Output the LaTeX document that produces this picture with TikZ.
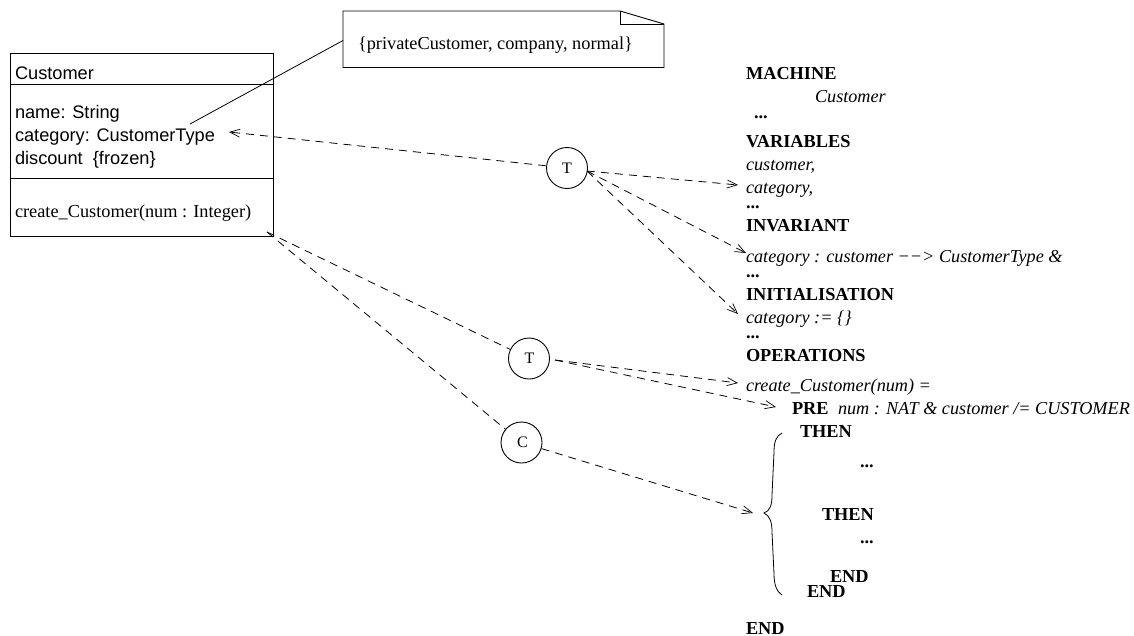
\documentclass[tikz,border=0pt]{standalone}
\usepackage{fontspec}
\setmainfont{Liberation Serif}
\newfontfamily\arialf{Liberation Sans}
\usetikzlibrary{arrows.meta}
\tikzset{
  txt/.style={anchor=base west,inner sep=0pt,outer sep=0pt,font=\fontsize{18.3}{20}\selectfont},
  sans/.style={txt,font=\fontsize{18.2}{20}\selectfont\arialf},
  kw/.style={txt,font=\fontsize{18.3}{20}\selectfont\bfseries},
  code/.style={txt,font=\fontsize{18.2}{20}\selectfont\itshape},
  role/.style={circle,draw,line width=0.9pt,minimum size=41pt,inner sep=0pt,font=\fontsize{16}{18}\selectfont},
  dashline/.style={dash pattern=on 8pt off 6pt,line width=0.8pt},
  dep/.style={dashline,-{Straight Barb[length=10pt,width=8pt,line width=0.7pt]}},
  box/.style={line width=0.9pt},
}
\begin{document}
\begin{tikzpicture}[x=1pt,y=-1pt]
\useasboundingbox (0,0) rectangle (1134,635);
% class
\draw[box] (10,53) rectangle (273,236);
\draw[box] (10,84) -- (273,84);
\draw[box] (10,178) -- (273,178);
\node[sans] (cn) at (15,79) {Customer};
\node[sans] (a1) at (15,118) {name: String};
\node[sans] (a2) at (15,141) {category: CustomerType};
\node[sans] (a3) at (15,164) {discount \;{\{}frozen\}};
\node[txt] (op) at (15,217) {create\_Customer(num : Integer)};
\coordinate (opc) at (267,232);
% note
\draw[box] (343,11) -- (620,11) -- (664,24) -- (664,67.5) -- (343,67.5) -- cycle;
\draw[box] (620,11) -- (620,24) -- (664,24);
\node[txt] (nt) at (358,49.5) {\{privateCustomer, company, normal\}};
\coordinate (nl) at (343,40.5);
\coordinate (na) at (190,124);
\draw[line width=0.8pt] (nl) -- (na);
% circles
\node[role] (t1) at (567,168) {\raisebox{-4pt}{T}};
\node[role] (t2) at (529,358.5) {\hspace{1pt}\raisebox{-4pt}{T}};
\node[role] (c) at (521.5,442.5) {\hspace{2pt}\raisebox{-4pt}{C}};
% right text
\node[kw] (m) at (746,79) {MACHINE};
\node[code] (mc) at (815,102) {Customer};
\node[kw] at (754,118) {...};
\node[kw] at (746,147) {VARIABLES};
\node[code] at (746,170) {customer,};
\node[code] at (746,193) {category,};
\node[kw] at (746,208) {...};
\node[kw] at (746,231) {INVARIANT};
\node[code] at (746,262) {category : customer −−> CustomerType \&};
\node[kw] at (746,277) {...};
\node[kw] at (746,300) {INITIALISATION};
\node[code] at (746,323) {category := \{\}};
\node[kw] at (746,338) {...};
\node[kw] at (746,361) {OPERATIONS};
\node[code] at (746,391) {create\_Customer(num) =};
\node[kw] at (792,414) {PRE};
\node[code] at (838,414) {num : NAT \& customer /= CUSTOMER};
\node[kw] at (800,437) {THEN};
\node[kw] at (860,467) {...};
\node[kw] at (822,520) {THEN};
\node[kw] at (860,543) {...};
\node[kw] at (830,582) {END};
\node[kw] at (807,597) {END};
\node[kw] at (746,634.5) {END};
% brace
\draw[line width=0.8pt] (782,433) .. controls (776,436) and (774,442) .. (774,452) -- (772,495) .. controls (772,505) and (770,511) .. (764,513) .. controls (770,516) and (772,522) .. (772,532) -- (774,574) .. controls (774,585) and (777,592) .. (782,595);
\coordinate (s1) at (587,171);
\coordinate (p1) at (738,185);
\coordinate (p2) at (746,253);
\coordinate (p3) at (738,314);
\coordinate (s2) at (555,360);
\coordinate (p4) at (738,383);
\coordinate (p5) at (776,407);
\coordinate (p6) at (753,513);
\coordinate (a4) at (229,132);
\draw[dep] (t1) -- (a4);
\draw[dep] (s1) -- (p1);
\draw[dep] (s1) -- (p2);
\draw[dep] (s1) -- (p3);
\draw[dep] (s2) -- (p4);
\draw[dep] (s2) -- (p5);
\draw[dep] (c) -- (p6);
\draw[dashline] (opc) -- (t2);
\draw[dashline] (opc) -- (c);
\end{tikzpicture}
\end{document}
